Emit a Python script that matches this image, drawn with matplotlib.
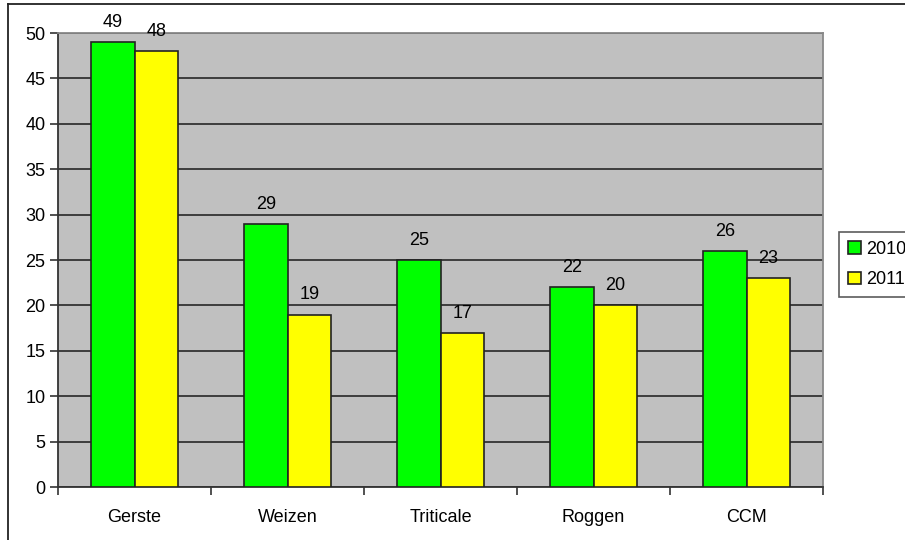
import matplotlib
matplotlib.use("Agg")
import matplotlib.pyplot as plt
import numpy as np
from matplotlib.lines import Line2D

plt.rcParams["font.family"] = ["Liberation Sans", "DejaVu Sans"]

categories = ["Gerste", "Weizen", "Triticale", "Roggen", "CCM"]
v2010 = [49, 29, 25, 22, 26]
v2011 = [48, 19, 17, 20, 23]
series_labels = ["2010", "2011"]

fig = plt.figure(figsize=(9.05, 5.4), dpi=100)
ax = fig.add_axes([0.0641, 0.0981, 0.8453, 0.8407])
ax.set_facecolor("#c0c0c0")

x = np.arange(len(categories)) + 0.5
w = 0.285
b1 = ax.bar(x - w / 2, v2010, width=w, color="#00ff00", edgecolor="#222222", linewidth=1.2,
            label=series_labels[0], zorder=3)
b2 = ax.bar(x + w / 2, v2011, width=w, color="#ffff00", edgecolor="#222222", linewidth=1.2,
            label=series_labels[1], zorder=3)
for bars in (b1, b2):
    ax.bar_label(bars, fmt="%d", fontsize=13, padding=8)

ax.set_xlim(0, len(categories))
ax.set_ylim(0, 50)
ax.set_yticks(range(0, 51, 5))
ax.set_xticks(range(0, len(categories) + 1), minor=False)
ax.set_xticklabels([])
ax.set_xticks(x, minor=True)
ax.set_xticklabels(categories, minor=True, fontsize=13)
ax.tick_params(axis="x", which="minor", length=0, pad=16)
ax.tick_params(axis="x", which="major", length=6, width=1.2, color="#333333")
ax.tick_params(axis="y", length=6, width=1.2, color="#333333", labelsize=13, pad=3)
ax.grid(axis="y", color="#333333", linewidth=1.3, zorder=1)
ax.set_axisbelow(True)

for s in ("left", "bottom"):
    ax.spines[s].set_color("#333333")
    ax.spines[s].set_linewidth(1.3)
for s in ("top", "right"):
    ax.spines[s].set_color("#888888")
    ax.spines[s].set_linewidth(1.3)

leg = ax.legend(loc="center left", bbox_to_anchor=(0.927, 0.51), bbox_transform=fig.transFigure,
                fontsize=13, frameon=True, fancybox=False, handlelength=0.7, handleheight=0.7,
                handletextpad=0.3, borderpad=0.5, labelspacing=0.75, borderaxespad=0)
leg.get_frame().set_edgecolor("#333333")
leg.get_frame().set_linewidth(1.2)

# outer frame lines of the original page
fig.add_artist(Line2D([8 / 905, 8 / 905], [0, 1 - 4 / 540], transform=fig.transFigure,
                      color="#222222", linewidth=1.3))
fig.add_artist(Line2D([8 / 905, 1], [1 - 4 / 540, 1 - 4 / 540], transform=fig.transFigure,
                      color="#222222", linewidth=1.3))

fig.savefig("out.png", dpi=100)
